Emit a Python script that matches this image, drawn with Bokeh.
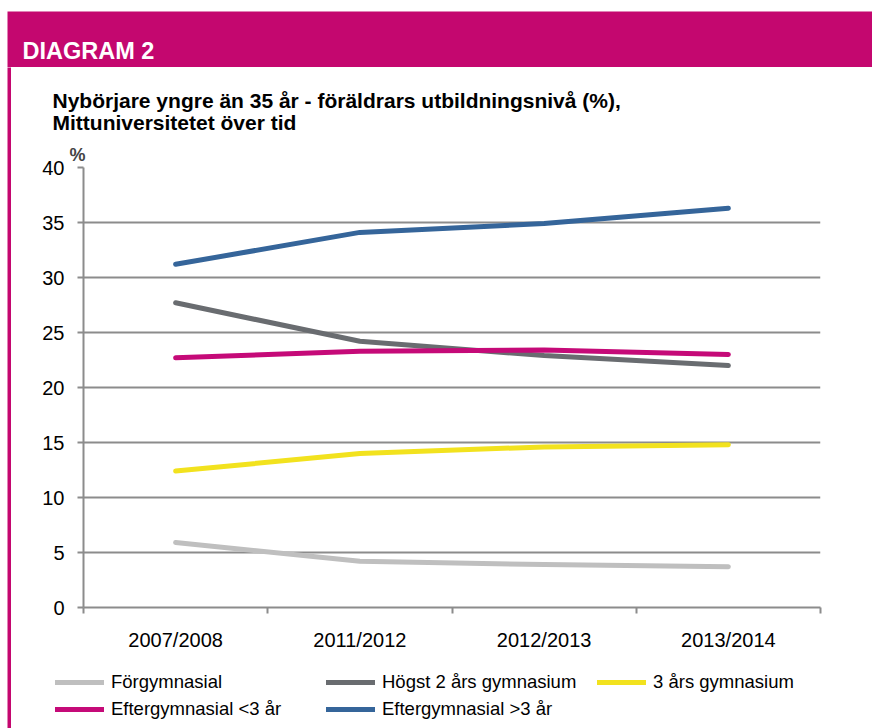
from bokeh.plotting import figure
from bokeh.layouts import column, row
from bokeh.models import Range1d, FixedTicker
from bokeh.core.properties import value
from bokeh.embed import file_html
from bokeh.resources import INLINE

categories = ["2007/2008", "2011/2012", "2012/2013", "2013/2014"]
forgymnasial = [5.9, 4.2, 3.9, 3.7]
hogst2 = [27.7, 24.2, 22.9, 22.0]
tre_ars = [12.4, 14.0, 14.6, 14.8]
efter_lt3 = [22.7, 23.3, 23.4, 23.0]
efter_gt3 = [31.2, 34.1, 34.9, 36.3]
series_names = ["Förgymnasial", "Högst 2 års gymnasium", "3 års gymnasium",
                "Eftergymnasial <3 år", "Eftergymnasial >3 år"]
y_ticks = [0, 5, 10, 15, 20, 25, 30, 35, 40]

header_text = "DIAGRAM 2"
title_line1 = "Nybörjare yngre än 35 år - föräldrars utbildningsnivå (%),"
title_line2 = "Mittuniversitetet  över  tid"
unit_text = "%"

colors = ["#BFBFBF", "#696C70", "#F2E21E", "#C50A78", "#35659A"]
MAGENTA = "#C4076F"
GRID = "#8C8C8C"
FONT = "Liberation Sans"

TOTAL_W, TOTAL_H = 872, 728
BAND_H = 67
BORDER_W = 11
INNER_W = TOTAL_W - BORDER_W
TITLE_H = 73
LEGEND_H = 73
MAIN_H = TOTAL_H - BAND_H - TITLE_H - LEGEND_H
BODY_H = TOTAL_H - BAND_H


def blank_fig(w, h):
    f = figure(width=w, height=h, output_backend="svg", toolbar_location=None,
               x_range=Range1d(0, w), y_range=Range1d(h, 0),
               x_axis_location=None, y_axis_location=None,
               min_border=0, outline_line_color=None)
    f.xgrid.visible = False
    f.ygrid.visible = False
    return f


# ---- magenta header band ----
band = blank_fig(TOTAL_W, BAND_H)
band.quad(left=[7], right=[TOTAL_W], top=[11], bottom=[BAND_H + 1],
          fill_color=MAGENTA, line_color=None)
band.text(x=[22], y=[50], text=[header_text], text_font=value(FONT),
          text_font_style="bold", text_font_size="23.5px", text_color="white",
          text_baseline="alphabetic")

# ---- one continuous left border strip ----
brd = blank_fig(BORDER_W, BODY_H)
brd.quad(left=[7], right=[BORDER_W], top=[-1], bottom=[BODY_H + 1],
         fill_color=MAGENTA, line_color=None)

# ---- chart title ----
ttl = blank_fig(INNER_W, TITLE_H)
ttl.text(x=[41, 41], y=[33, 55], text=[title_line1, title_line2],
         text_font=value(FONT), text_font_style="bold", text_font_size="21px",
         text_color="black", text_baseline="alphabetic")

# ---- main chart ----
p = figure(width=INNER_W, height=MAIN_H, output_backend="svg", toolbar_location=None,
           x_range=Range1d(0, len(categories)), y_range=Range1d(0, 40),
           min_border_left=72, min_border_right=52, min_border_top=27,
           min_border_bottom=48, outline_line_color=None)

p.title.text = unit_text
p.title.text_font = FONT
p.title.text_font_style = "bold"
p.title.text_font_size = "18px"
p.title.align = "left"
p.title.offset = -14
p.title.standoff = 5

centers = [i + 0.5 for i in range(len(categories))]
bounds = list(range(len(categories) + 1))

xa = p.xaxis[0]
xa.ticker = FixedTicker(ticks=centers, minor_ticks=bounds)
xa.major_label_overrides = {c: lab for c, lab in zip(centers, categories)}
xa.major_tick_line_color = None
xa.major_tick_out = 0
xa.major_tick_in = 0
xa.minor_tick_out = 6
xa.minor_tick_in = 0
xa.minor_tick_line_color = GRID
xa.minor_tick_line_width = 2
xa.axis_line_color = GRID
xa.axis_line_width = 2
xa.major_label_text_font = FONT
xa.major_label_text_font_size = "20px"
xa.major_label_text_color = "#000000"
xa.major_label_standoff = 15

ya = p.yaxis[0]
ya.ticker = FixedTicker(ticks=y_ticks)
ya.minor_tick_line_color = None
ya.major_tick_out = 6
ya.major_tick_in = 0
ya.major_tick_line_color = GRID
ya.major_tick_line_width = 2
ya.axis_line_color = GRID
ya.axis_line_width = 2
ya.major_label_text_font = FONT
ya.major_label_text_font_size = "20px"
ya.major_label_text_color = "#000000"
ya.major_label_standoff = 13

p.xgrid.grid_line_color = None
p.ygrid.ticker = FixedTicker(ticks=y_ticks)
p.ygrid.grid_line_color = GRID
p.ygrid.grid_line_width = 2

all_series = [forgymnasial, hogst2, tre_ars, efter_lt3, efter_gt3]
for name, vals, col in zip(series_names, all_series, colors):
    p.line(centers, vals, line_color=col, line_width=5, line_cap="round",
           line_join="round")

# ---- legend strip ----
lg = blank_fig(INNER_W, LEGEND_H)
for name, vals, col in zip(series_names, all_series, colors):
    r = lg.line(centers, vals, line_color=col, line_width=5, line_cap="round",
                legend_label=name)
    r.visible = False

leg = lg.legend[0]
leg.location = (44, 8)
leg.orientation = "horizontal"
leg.ncols = 3
leg.padding = 0
leg.margin = 0
leg.border_line_color = None
leg.background_fill_alpha = 0
leg.inactive_fill_alpha = 0
leg.glyph_width = 49
leg.glyph_height = 16
leg.label_height = 16
leg.label_width = 210
leg.label_standoff = 7
leg.spacing = 5
leg.label_text_font = FONT
leg.label_text_font_size = "18.5px"
leg.label_text_color = "#000000"

right_col = column(column(ttl), column(p), column(lg), spacing=0)
layout = column(band, row(brd, right_col, spacing=0), spacing=0)

open("out.html", "w").write(file_html(layout, INLINE))
